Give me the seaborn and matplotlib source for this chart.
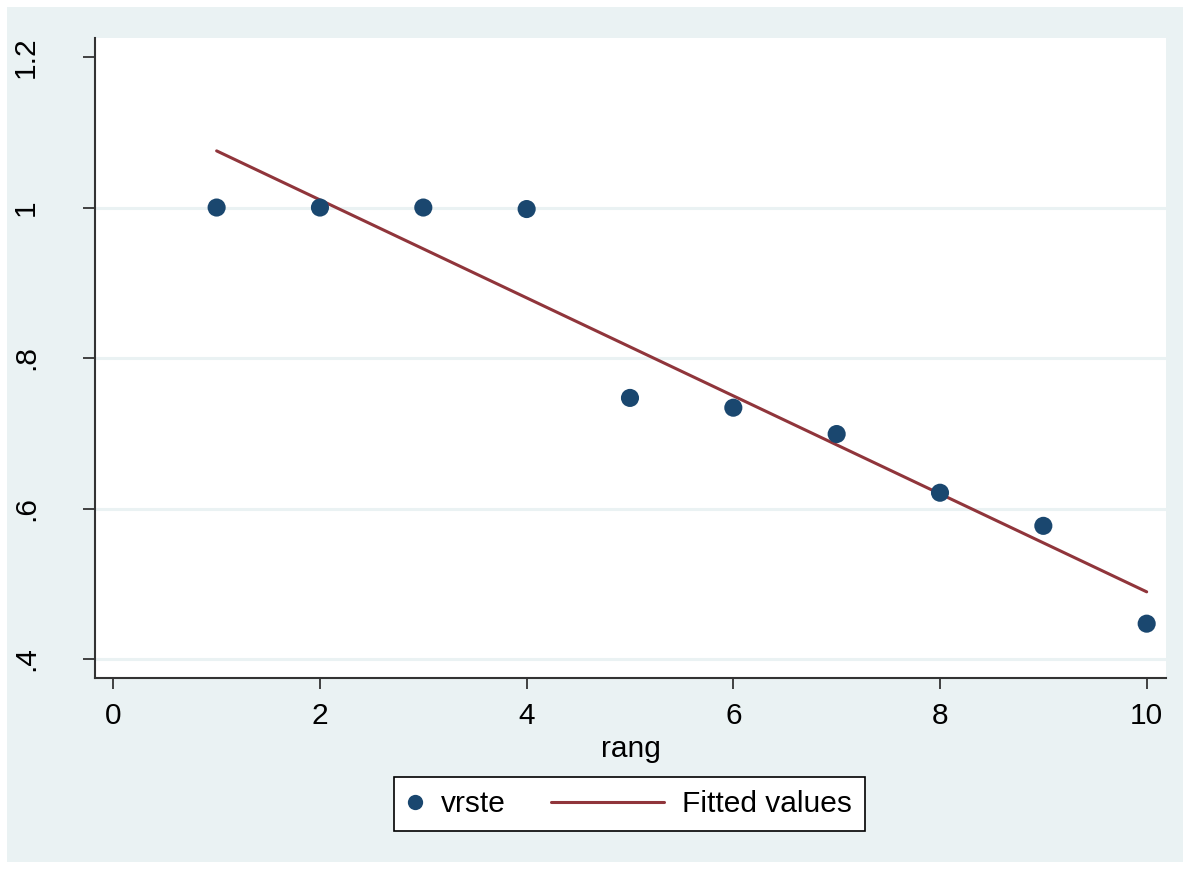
import matplotlib
matplotlib.use("Agg")
import matplotlib.pyplot as plt
import seaborn as sns
import pandas as pd
from matplotlib.patches import Rectangle
from matplotlib.lines import Line2D
from matplotlib.legend_handler import HandlerBase

rang = [1, 2, 3, 4, 5, 6, 7, 8, 9, 10]
vrste = [1.0, 1.0, 1.0, 0.998, 0.747, 0.734, 0.699, 0.621, 0.577, 0.447]
yticks = [0.4, 0.6, 0.8, 1.0, 1.2]
ytick_labels = [".4", ".6", ".8", "1", "1.2"]
xticks = [0, 2, 4, 6, 8, 10]
grid_vals = [0.4, 0.6, 0.8, 1.0]

df = pd.DataFrame({"rang": rang, "vrste": vrste})

sns.set_style("white")
plt.rcParams["font.family"] = ["Liberation Sans", "DejaVu Sans"]
plt.rcParams["text.color"] = "black"
plt.rcParams["xtick.color"] = "#333333"
plt.rcParams["ytick.color"] = "#333333"
plt.rcParams["xtick.labelcolor"] = "black"
plt.rcParams["ytick.labelcolor"] = "black"
plt.rcParams["axes.labelcolor"] = "black"

FS = 21.5
W, H = 1190, 869
fig = plt.figure(figsize=(W / 100, H / 100), dpi=100)
fig.patch.set_facecolor("white")
fig.patches.append(Rectangle((7 / W, 7 / H), (W - 14) / W, (H - 14) / H,
                             transform=fig.transFigure, facecolor="#EAF2F3",
                             edgecolor="none", zorder=-10))

ax = fig.add_axes([95 / W, (H - 678) / H, (1166 - 95) / W, (678 - 38) / H])
ax.set_facecolor("white")

for g in grid_vals:
    ax.axhline(g, color="#EAF2F3", lw=2.2, zorder=0)

navy = "#1A476F"
red = "#90353B"
sns.scatterplot(data=df, x="rang", y="vrste", ax=ax, color=navy, s=170,
                edgecolor="none", zorder=3, legend=False)
sns.regplot(data=df, x="rang", y="vrste", ax=ax, scatter=False, ci=None,
            color=red, line_kws={"lw": 2.2, "zorder": 2}, truncate=True)

ax.set_xlim(-0.177, 10.187)
ax.set_ylim(0.3748, 1.2253)
ax.set_xticks(xticks)
ax.set_xticklabels([str(v) for v in xticks], fontsize=FS)
ax.set_yticks(yticks)
ax.set_yticklabels(ytick_labels, fontsize=FS, rotation=90, va="center")
ax.tick_params(axis="x", bottom=True, length=8.2, width=1.3, pad=9)
ax.tick_params(axis="y", left=True, length=8.6, width=1.3, pad=31)

for s in ["top", "right"]:
    ax.spines[s].set_visible(False)
for s in ["left", "bottom"]:
    ax.spines[s].set_color("#333333")
    ax.spines[s].set_linewidth(1.5)

ax.set_xlabel("rang", fontsize=FS, labelpad=4)
ax.set_ylabel("")


class DotHandler(HandlerBase):
    def create_artists(self, legend, orig_handle, xdescent, ydescent,
                       width, height, fontsize, trans):
        y = height / 2 - ydescent
        x = -xdescent + width / 2
        m = Line2D([x], [y], marker="o", color="none", markerfacecolor=navy,
                   markeredgecolor="none", markersize=11)
        m.set_transform(trans)
        return [m]


class LongLineHandler(HandlerBase):
    def create_artists(self, legend, orig_handle, xdescent, ydescent,
                       width, height, fontsize, trans):
        y = height / 2 - ydescent
        ext = 70
        ln = Line2D([-xdescent - ext, -xdescent + width], [y, y],
                    color=red, lw=2.2)
        ln.set_transform(trans)
        return [ln]


h_dot = Line2D([], [], marker="o", color="none")
h_line = Line2D([], [], color=red)
leg = fig.legend([h_dot, h_line], ["vrste", "Fitted values"], ncol=2,
                 loc="center", bbox_to_anchor=((394 + 865) / 2 / W, 1 - (804 / H)),
                 fontsize=FS, frameon=True, fancybox=False, edgecolor="black",
                 framealpha=1, facecolor="white",
                 handlelength=0.5, columnspacing=4.8, handletextpad=0.6,
                 borderpad=0.45,
                 handler_map={h_dot: DotHandler(), h_line: LongLineHandler()})
leg.get_frame().set_linewidth(1.2)

fig.savefig("out.png", dpi=100, facecolor=fig.get_facecolor())
